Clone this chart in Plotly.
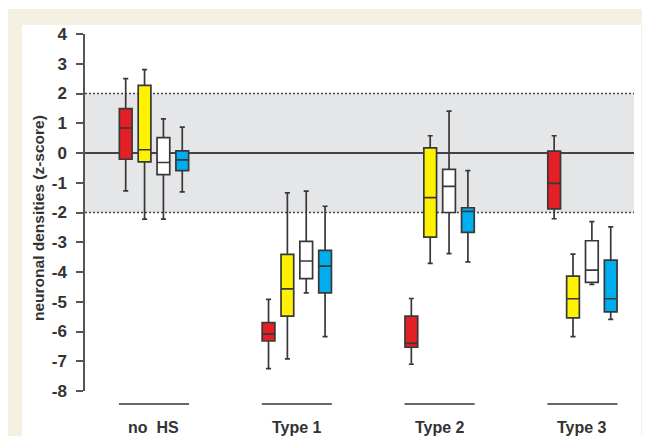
import plotly.graph_objects as go

groups = ["no  HS", "Type 1", "Type 2", "Type 3"]
series_colors = ["#e41f26", "#fff200", "#ffffff", "#00aeef"]

# stats per series, one value per group: [noHS, Type1, Type2, Type3]
red_upper = [2.50, -4.92, -4.89, 0.58]
red_q3 = [1.49, -5.70, -5.48, 0.06]
red_med = [0.84, -6.09, -6.40, -1.02]
red_q1 = [-0.21, -6.32, -6.53, -1.88]
red_lower = [-1.27, -7.25, -7.10, -2.21]

yel_upper = [2.80, -1.34, 0.58, -3.40]
yel_q3 = [2.27, -3.41, 0.17, -4.14]
yel_med = [0.11, -4.57, -1.50, -4.90]
yel_q1 = [-0.30, -5.48, -2.83, -5.54]
yel_lower = [-2.22, -6.92, -3.71, -6.17]

wht_upper = [1.15, -1.28, 1.41, -2.31]
wht_q3 = [0.52, -2.97, -0.55, -2.95]
wht_med = [-0.32, -3.63, -1.12, -3.94]
wht_q1 = [-0.73, -4.22, -2.00, -4.35]
wht_lower = [-2.22, -4.70, -3.38, -4.42]

blu_upper = [0.87, -1.79, -0.59, -2.48]
blu_q3 = [0.07, -3.27, -1.84, -3.60]
blu_med = [-0.23, -3.80, -1.96, -4.90]
blu_q1 = [-0.59, -4.70, -2.67, -5.34]
blu_lower = [-1.31, -6.17, -3.66, -5.59]

y_ticks = list(range(-8, 5))
y_tick_labels = ["-8", "-7", "-6", "-5", "-4", "-3", "-2", "-1", "0", "1", "2", "3", "4"]
band_low, band_high = -2, 2

series = [
    (red_lower, red_q1, red_med, red_q3, red_upper),
    (yel_lower, yel_q1, yel_med, yel_q3, yel_upper),
    (wht_lower, wht_q1, wht_med, wht_q3, wht_upper),
    (blu_lower, blu_q1, blu_med, blu_q3, blu_upper),
]

offsets = [-0.198, -0.066, 0.066, 0.198]
box_w = 0.089
outline = "#383838"

fig = go.Figure()
for i, (lo, q1, med, q3, hi) in enumerate(series):
    xs = [g + offsets[i] for g in range(len(groups))]
    fig.add_trace(go.Box(
        x=xs, lowerfence=lo, q1=q1, median=med, q3=q3, upperfence=hi,
        width=box_w, whiskerwidth=0.4, fillcolor=series_colors[i],
        line=dict(color=outline, width=1.7), boxpoints=False,
        hoverinfo="skip", showlegend=False,
    ))

# page body has an 8px margin; size the figure to fit the window
OFF = 8
W, H = 650 - OFF, 436 - OFF
L, T = 85 - OFF, 34 - OFF
R = W - (634 - OFF)
B = H - (391 - OFF)
pw, ph = W - L - R, H - T - B

def px(x):
    return (x - OFF - L) / pw

def py(y):
    return (H + OFF - B - y) / ph

font_family = "Liberation Sans, Arial"
dot_line = dict(color="#444444", width=1.6, dash="2px,2px")
shapes = [
    dict(type="rect", xref="paper", yref="paper", x0=px(7), x1=px(652), y0=py(440), y1=py(9),
         fillcolor="#f4f0e2", line=dict(width=0), layer="below"),
    dict(type="rect", xref="paper", yref="paper", x0=px(22), x1=px(641), y0=py(440), y1=py(25),
         fillcolor="#ffffff", line=dict(width=0), layer="below"),
    dict(type="rect", xref="x domain", yref="y", x0=0, x1=1, y0=band_low, y1=band_high,
         fillcolor="#e5e6e8", line=dict(width=0), layer="below"),
    dict(type="line", xref="x domain", yref="y", x0=0, x1=1, y0=band_high, y1=band_high,
         line=dot_line, layer="below"),
    dict(type="line", xref="x domain", yref="y", x0=0, x1=1, y0=band_low, y1=band_low,
         line=dot_line, layer="below"),
]
annotations = []
for g, name in enumerate(groups):
    shapes.append(dict(type="line", xref="x", yref="paper", x0=g - 0.245, x1=g + 0.245,
                       y0=py(404), y1=py(404), line=dict(color="#666666", width=2)))
    annotations.append(dict(x=g, y=py(427), xref="x", yref="paper", text=name.replace(" ", "\u00a0"),
                            showarrow=False, xanchor="center", yanchor="middle",
                            font=dict(family=font_family, size=16, color="#333333", weight="bold")))

annotations.append(dict(x=px(39), y=py(218), xref="paper", yref="paper", text="neuronal densities (z-score)",
                        textangle=-90, showarrow=False, xanchor="center", yanchor="middle",
                        font=dict(family=font_family, size=15.5, color="#333333", weight="bold")))

fig.update_layout(
    width=W, height=H,
    margin=dict(l=L, r=R, t=T, b=B, pad=0),
    paper_bgcolor="#ffffff",
    plot_bgcolor="rgba(0,0,0,0)",
    shapes=shapes,
    annotations=annotations,
    xaxis=dict(range=[-0.483, 3.361], visible=False, fixedrange=True),
    yaxis=dict(range=[-8, 4], tickvals=y_ticks, ticktext=y_tick_labels, ticks="outside",
               ticklen=7, tickwidth=1.5,
               tickcolor="#555555", showline=True, linecolor="#555555", linewidth=1.5,
               showgrid=False, zeroline=True, zerolinecolor="#444444", zerolinewidth=1.5,
               ticklabelstandoff=6,
               tickfont=dict(family=font_family, size=17, color="#333333", weight="bold"),
               fixedrange=True),
    showlegend=False,
)

fig.write_html("out.html")
